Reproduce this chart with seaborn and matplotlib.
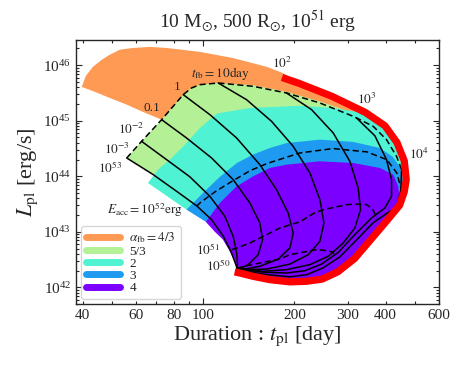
import numpy as np
import matplotlib
matplotlib.use("Agg")
import matplotlib.pyplot as plt
import seaborn as sns
from matplotlib.lines import Line2D

# values: plateau duration t_pl [day], log10 L_pl [erg/s]

# thick red boundary
red_t = [182, 208, 266, 343, 398, 436, 461, 468, 461, 445, 405, 356, 316, 278, 247, 219, 193, 166, 146, 132, 127]
red_logL = [45.78, 45.67, 45.44, 45.15, 44.91, 44.61, 44.28, 43.94, 43.72, 43.48, 43.21, 42.85, 42.52, 42.28,
            42.15, 42.11, 42.10, 42.14, 42.20, 42.26, 42.28]

# shaded regions, one polygon per alpha_fb
orange_t = [39.7, 41.0, 43.2, 46.3, 49.2, 53.1, 58.6, 66.7, 75.9, 97.5, 125.3, 162.3, 183.2,
            208, 266, 343, 398, 436, 461, 468, 461, 445, 405, 356, 316, 278, 247, 219, 193, 166, 146, 132,
            129.2, 118.0, 97.5, 83.8, 72.9, 63.2, 55.9, 49.2, 43.9]
orange_logL = [45.61, 45.81, 45.97, 46.10, 46.19, 46.28, 46.31, 46.33, 46.31, 46.24, 46.13, 45.97, 45.86,
               45.67, 45.44, 45.15, 44.91, 44.61, 44.28, 43.94, 43.72, 43.48, 43.21, 42.85, 42.52, 42.28, 42.15,
               42.11, 42.10, 42.14, 42.20, 42.26,
               42.35, 42.86, 43.85, 44.48, 45.02, 45.16, 45.29, 45.41, 45.52]

green_t = [55.9, 62.6, 72.9, 85.9, 91.5, 97.5, 112.1, 146.2, 188.4, 242.8, 312.8, 364.1, 402.9, 434.7,
           461, 468, 461, 445, 405, 356, 316, 278, 247, 219, 193, 166, 146, 132,
           129.2, 127.6, 123.4, 116.5, 106.6, 95.1, 81.7, 68.4]
green_logL = [44.33, 44.63, 45.02, 45.47, 45.59, 45.65, 45.68, 45.64, 45.52, 45.35, 45.14, 44.96, 44.75, 44.45,
              44.28, 43.94, 43.72, 43.48, 43.21, 42.85, 42.52, 42.28, 42.15, 42.11, 42.10, 42.14, 42.20, 42.26,
              42.35, 42.44, 42.65, 42.92, 43.22, 43.47, 43.73, 44.03]

teal_t = [65.7, 70.9, 77.6, 87.0, 97.5, 111.0, 142.6, 208.5, 268.0, 321.5, 374.4, 413.3, 435.8, 445.9, 456.1,
          468, 461, 445, 405, 356, 316, 278, 247, 219, 193, 166, 146, 132,
          129.2, 134.2, 132.2, 105.2, 88.1]
teal_logL = [43.88, 44.12, 44.30, 44.57, 44.87, 45.13, 45.23, 45.27, 45.23, 45.16, 45.02, 44.75, 44.48, 44.30, 44.12,
             43.94, 43.72, 43.48, 43.21, 42.85, 42.52, 42.28, 42.15, 42.11, 42.10, 42.14, 42.20, 42.26,
             42.35, 42.46, 42.86, 43.22, 43.40]

blue_t = [88.1, 99.8, 113.5, 129.2, 145.9, 166.0, 188.9, 242.8, 312.0, 383.0, 422.8, 445.9, 456.1,
          468, 461, 445, 405, 356, 316, 278, 247, 219, 193, 166, 146, 132,
          129.2, 134.2, 132.2, 113.5, 102.0]
blue_logL = [43.40, 43.70, 43.99, 44.24, 44.39, 44.51, 44.60, 44.66, 44.62, 44.51, 44.35, 44.17, 43.94,
             43.94, 43.72, 43.48, 43.21, 42.85, 42.52, 42.28, 42.15, 42.11, 42.10, 42.14, 42.20, 42.26,
             42.35, 42.46, 42.86, 43.07, 43.18]

purple_t = [102.0, 113.5, 128.9, 146.2, 166.0, 188.4, 242.8, 312.8, 383.0, 423.9, 440.3, 445.9,
            445, 405, 356, 316, 278, 247, 219, 193, 166, 146, 132,
            129.2, 126.3, 121.5, 116.2, 109.3]
purple_logL = [43.18, 43.52, 43.82, 44.00, 44.15, 44.21, 44.27, 44.24, 44.15, 44.03, 43.82, 43.58,
               43.48, 43.21, 42.85, 42.52, 42.28, 42.15, 42.11, 42.10, 42.14, 42.20, 42.26,
               42.35, 42.51, 42.68, 42.86, 43.00]

# constant E_acc (dashed)
eacc53_t = [55.9, 62.6, 72.9, 85.9, 91.5, 97.5, 112.1, 146.2, 188.4, 242.8, 312.8, 364.1, 402.9, 434.7, 451.6]
eacc53_logL = [44.33, 44.63, 45.02, 45.47, 45.59, 45.65, 45.68, 45.62, 45.50, 45.32, 45.08, 44.90, 44.66, 44.36, 44.12]
eacc52_t = [95.1, 97.5, 109.3, 125.3, 142.6, 162.3, 208.5, 268.0, 346.9, 403.9, 435.8, 449.3]
eacc52_logL = [43.46, 43.52, 43.72, 43.92, 44.10, 44.23, 44.42, 44.50, 44.44, 44.30, 44.06, 43.79]
eacc51_t = [124.4, 132.2, 142.6, 161.9, 179.1, 208.5, 230.8, 249.0, 298.1, 321.5, 346.9, 363.2, 374.4]
eacc51_logL = [42.68, 42.73, 42.80, 42.95, 43.07, 43.18, 43.33, 43.40, 43.49, 43.50, 43.49, 43.40, 43.25]
eacc50_t = [129.2, 153.8, 179.1, 193.2, 236.7, 258.6, 268.0, 272.1]
eacc50_logL = [42.35, 42.44, 42.51, 42.59, 42.68, 42.66, 42.63, 42.56]

# constant t_fb (solid)
tfb_m3_t = [55.9, 68.4, 81.7, 95.1, 106.6, 116.5, 123.4, 127.6, 129.2]
tfb_m3_logL = [44.33, 44.03, 43.73, 43.47, 43.22, 42.92, 42.65, 42.44, 42.35]
tfb_m2_t = [62.6, 75.7, 90.4, 105.2, 117.9, 125.6, 128.9, 129.8, 129.2]
tfb_m2_logL = [44.63, 44.30, 43.99, 43.64, 43.28, 42.92, 42.62, 42.42, 42.35]
tfb_m1_t = [72.9, 88.1, 106.6, 125.6, 142.6, 153.8, 157.0, 151.9, 140.8, 132.2, 129.2]
tfb_m1_logL = [45.02, 44.69, 44.33, 43.94, 43.52, 43.16, 42.86, 42.59, 42.41, 42.34, 42.35]
tfb_0_t = [85.9, 105.2, 128.9, 153.8, 174.6, 190.8, 198.2, 193.2, 176.9, 153.8, 137.3, 129.2]
tfb_0_logL = [45.47, 45.11, 44.69, 44.21, 43.76, 43.34, 42.98, 42.71, 42.51, 42.38, 42.33, 42.35]
tfb_1_t = [112.1, 139.0, 168.1, 198.2, 225.0, 242.8, 250.3, 242.8, 222.2, 193.2, 161.9, 142.6, 129.2]
tfb_1_logL = [45.68, 45.38, 44.99, 44.54, 44.06, 43.58, 43.16, 42.83, 42.59, 42.42, 42.33, 42.32, 42.35]
tfb_2_t = [188.4, 227.9, 268.7, 304.9, 324.8, 330.7, 316.6, 289.9, 258.6, 225.0, 188.4, 157.8, 139.0, 129.2]
tfb_2_logL = [45.50, 45.20, 44.78, 44.27, 43.79, 43.40, 43.07, 42.80, 42.56, 42.41, 42.32, 42.29, 42.32, 42.35]
tfb_3_t = [320.8, 368.7, 402.9, 418.5, 418.5, 397.8, 359.5, 316.6, 279.1, 245.8, 216.6, 188.4, 161.9, 142.6, 129.2]
tfb_3_logL = [45.05, 44.73, 44.30, 43.94, 43.64, 43.43, 43.25, 42.95, 42.63, 42.42, 42.30, 42.26, 42.27, 42.30, 42.35]
tfb_4_t = [451.6, 449.3, 435.8, 397.8, 363.2, 321.5, 282.6, 248.4, 219.9, 193.2, 162.3, 142.6, 129.2]
tfb_4_logL = [44.12, 43.76, 43.45, 43.31, 43.16, 42.86, 42.55, 42.35, 42.23, 42.19, 42.23, 42.28, 42.35]

alpha_labels = [r"$\alpha_{\rm fb}=4/3$", "5/3", "2", "3", "4"]
alpha_colors = ["#FF9A55", "#B3F096", "#4FF2D2", "#1E9BF0", "#7B00FF"]

sns.set_style("ticks")
plt.rcParams["font.family"] = ["Liberation Serif", "DejaVu Serif"]
plt.rcParams["mathtext.fontset"] = "stix"

fig = plt.figure(figsize=(4.63, 3.66), dpi=100)
ax = fig.add_axes([0.164, 0.169, 0.784, 0.723])
ax.set_xscale("log")
ax.set_yscale("log")

regions = [(orange_t, orange_logL), (green_t, green_logL), (teal_t, teal_logL),
           (blue_t, blue_logL), (purple_t, purple_logL)]
for (rt, rl), c in zip(regions, alpha_colors):
    ax.fill(rt, 10 ** np.array(rl), color=c, lw=0, zorder=1)

solid = [(tfb_m3_t, tfb_m3_logL), (tfb_m2_t, tfb_m2_logL), (tfb_m1_t, tfb_m1_logL),
         (tfb_0_t, tfb_0_logL), (tfb_1_t, tfb_1_logL), (tfb_2_t, tfb_2_logL),
         (tfb_3_t, tfb_3_logL), (tfb_4_t, tfb_4_logL)]
for st, sl in solid:
    sns.lineplot(x=st, y=10 ** np.array(sl), sort=False, estimator=None, color="k", lw=1.1, ax=ax, zorder=3)

dashed = [(eacc53_t, eacc53_logL), (eacc52_t, eacc52_logL), (eacc51_t, eacc51_logL), (eacc50_t, eacc50_logL)]
for dt, dl in dashed:
    sns.lineplot(x=dt, y=10 ** np.array(dl), sort=False, estimator=None, color="k", lw=1.1,
                 linestyle=(0, (4, 2.2)), ax=ax, zorder=3)

sns.lineplot(x=red_t, y=10 ** np.array(red_logL), sort=False, estimator=None, color="red", lw=5.2,
             solid_capstyle="butt", solid_joinstyle="round", ax=ax, zorder=4)

# annotations
fs = 9.5
ax.text(114, 10 ** 45.85, r"$t_{\rm fb}=10{\rm day}$", fontsize=fs, ha="center", va="center")
ax.text(82, 10 ** 45.61, "1", fontsize=fs, ha="center", va="center")
ax.text(67.6, 10 ** 45.23, "0.1", fontsize=fs, ha="center", va="center")
ax.text(58, 10 ** 44.84, r"$10^{-2}$", fontsize=fs, ha="center", va="center")
ax.text(51.8, 10 ** 44.48, r"$10^{-3}$", fontsize=fs, ha="center", va="center")
ax.text(49.2, 10 ** 44.15, r"$10^{53}$", fontsize=fs, ha="center", va="center")
ax.text(64.2, 10 ** 43.40, r"$E_{\rm acc}=10^{52}{\rm erg}$", fontsize=fs, ha="center", va="center")
ax.text(103.7, 10 ** 42.68, r"$10^{51}$", fontsize=fs, ha="center", va="center")
ax.text(111.8, 10 ** 42.38, r"$10^{50}$", fontsize=fs, ha="center", va="center")
ax.text(181.5, 10 ** 46.04, r"$10^{2}$", fontsize=fs, ha="center", va="center")
ax.text(346, 10 ** 45.38, r"$10^{3}$", fontsize=fs, ha="center", va="center")
ax.text(515, 10 ** 44.39, r"$10^{4}$", fontsize=fs, ha="center", va="center")

handles = [Line2D([0], [0], color=c, lw=5) for c in alpha_colors]
ax.legend(handles, alpha_labels, loc="lower left", fontsize=9.5, handlelength=2.6,
          labelspacing=0.0, borderpad=0.35, handletextpad=0.7, borderaxespad=0.4, frameon=True)

ax.set_xlim(38, 600)
ax.set_ylim(5e41, 2.9e46)
ax.set_xticks([100], ["100"])
ax.set_xticks([40, 50, 60, 70, 80, 90, 200, 300, 400, 500, 600],
              ["40", "", "60", "", "80", "", "200", "300", "400", "", "600"], minor=True)
ax.tick_params(which="both", direction="in", top=True, right=True, labelsize=11, width=0.8)
ax.tick_params(which="major", length=4)
ax.tick_params(which="minor", length=2.2)
for s in ax.spines.values():
    s.set_linewidth(1.0)

ax.set_xlabel(r"Duration : $t_{\rm pl}$ [day]", fontsize=16, labelpad=2)
ax.set_ylabel(r"$L_{\rm pl}$ [erg/s]", fontsize=16, labelpad=2)
ax.set_title(r"10 M$_{\odot}$, 500 R$_{\odot}$, 10$^{51}$ erg", fontsize=14, pad=8)

fig.savefig("out.png", dpi=100)
